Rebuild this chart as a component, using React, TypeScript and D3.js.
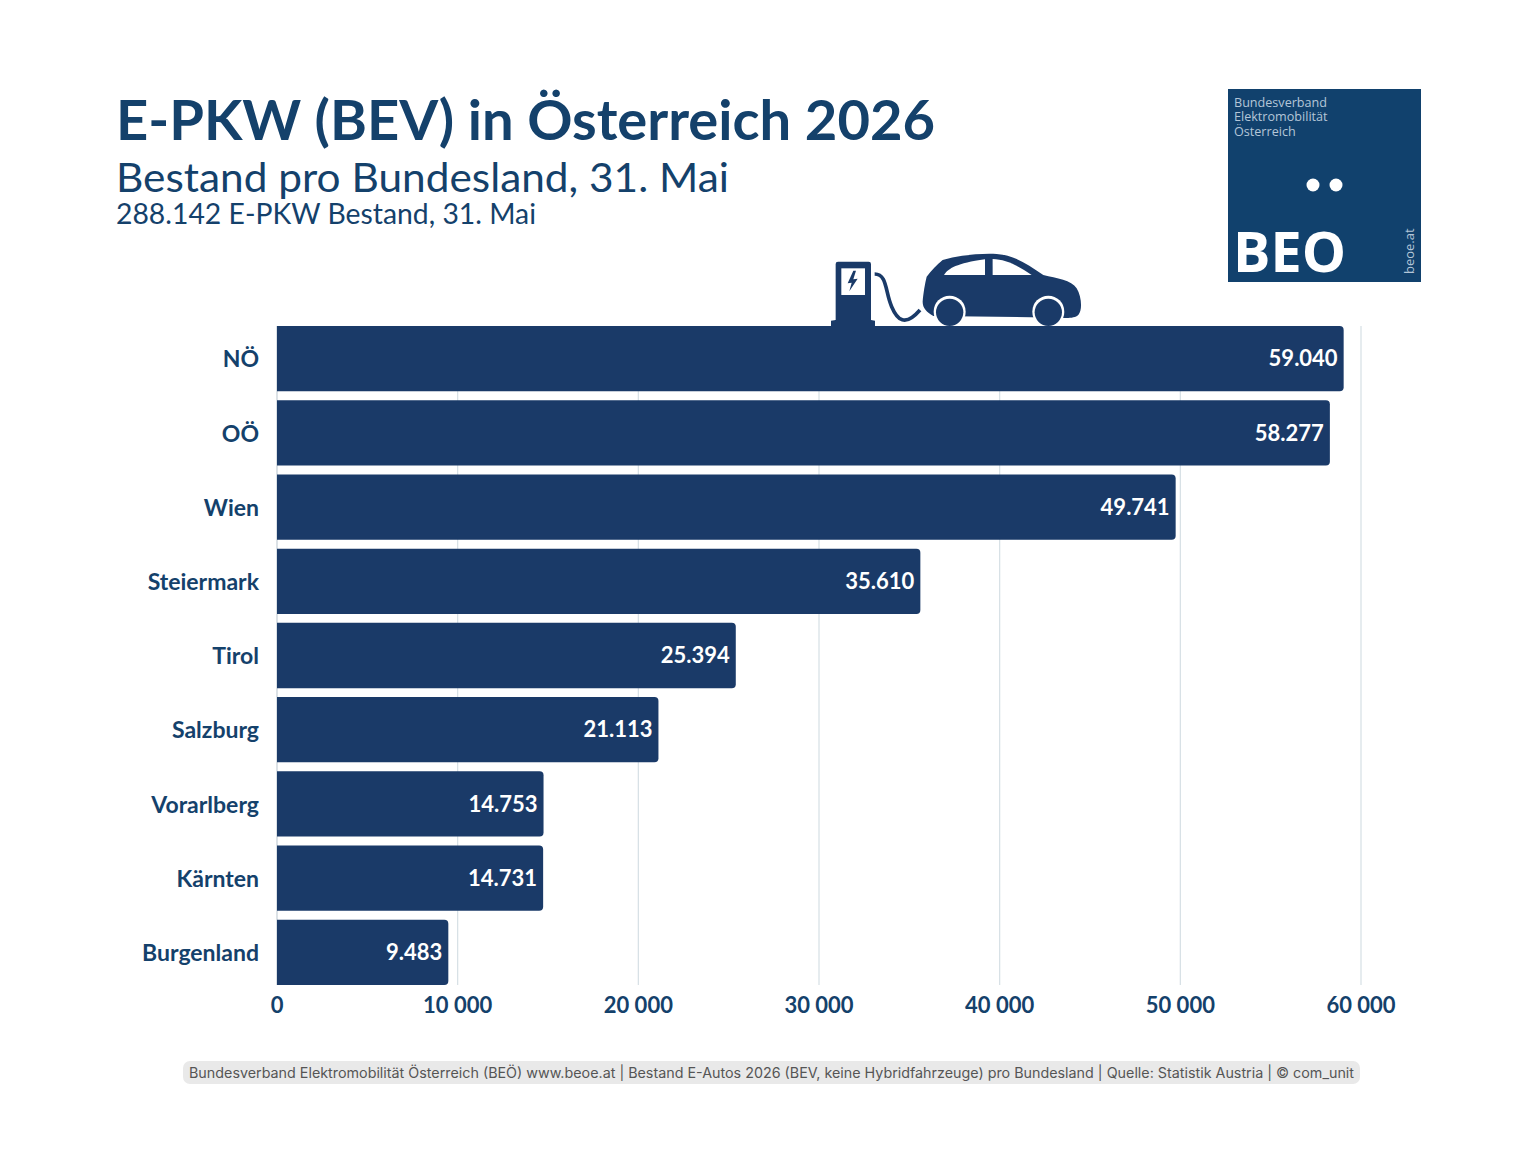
import React, { useEffect, useRef } from 'react';
import * as d3 from 'd3';

const regions = ['NÖ', 'OÖ', 'Wien', 'Steiermark', 'Tirol', 'Salzburg', 'Vorarlberg', 'Kärnten', 'Burgenland'];
const bestand = [59040, 58277, 49741, 35610, 25394, 21113, 14753, 14731, 9483];
const xTicks = [0, 10000, 20000, 30000, 40000, 50000, 60000];

const NAVY = '#14416b';
const BAR = '#1a3a68';
const FONT = 'Lato, "Open Sans", sans-serif';

const width = 1536;
const height = 1152;
const margin = { top: 326, right: 175, bottom: 167, left: 277 };

const formatLabel = (v: number) => d3.format(',')(v).replace(/,/g, '.');
const formatTick = (v: number) => d3.format(',')(v).replace(/,/g, ' ');

const App: React.FC = () => {
  const svgRef = useRef<SVGSVGElement>(null);

  useEffect(() => {
    if (!svgRef.current) return;
    d3.select(svgRef.current).select('.chart').remove();

    const innerWidth = width - margin.left - margin.right;
    const innerHeight = height - margin.top - margin.bottom;

    const g = d3.select(svgRef.current)
      .append('g')
      .attr('class', 'chart')
      .attr('transform', `translate(${margin.left},${margin.top})`);

    const x = d3.scaleLinear().domain([0, 60000]).range([0, innerWidth]);
    const y = d3.scaleBand().domain(regions).range([0, innerHeight]).paddingInner(0.12).paddingOuter(0);

    // vertical grid
    g.selectAll('.grid')
      .data(xTicks)
      .enter()
      .append('line')
      .attr('x1', d => x(d))
      .attr('x2', d => x(d))
      .attr('y1', 0)
      .attr('y2', innerHeight)
      .attr('stroke', d => (d === 0 ? '#c4ced6' : '#d6dfe5'))
      .attr('stroke-width', 1.2);

    // bars, only the right corners are rounded
    const r = 4;
    g.selectAll('.bar')
      .data(bestand)
      .enter()
      .append('path')
      .attr('fill', BAR)
      .attr('d', (d, i) => {
        const top = y(regions[i]) || 0;
        const bottom = top + y.bandwidth();
        const p = d3.path();
        p.moveTo(0, top);
        p.lineTo(x(d) - r, top);
        p.arcTo(x(d), top, x(d), top + r, r);
        p.lineTo(x(d), bottom - r);
        p.arcTo(x(d), bottom, x(d) - r, bottom, r);
        p.lineTo(0, bottom);
        p.closePath();
        return p.toString();
      });

    g.selectAll('.value')
      .data(bestand)
      .enter()
      .append('text')
      .attr('x', d => x(d) - 6)
      .attr('y', (d, i) => (y(regions[i]) || 0) + y.bandwidth() / 2)
      .attr('dy', '0.35em')
      .attr('text-anchor', 'end')
      .attr('fill', '#fff')
      .style('font', `700 22px ${FONT}`)
      .text(d => formatLabel(d));

    const yAxis = g.append('g').call(d3.axisLeft(y).offset(0).tickSize(0).tickPadding(18));
    yAxis.select('.domain').remove();
    yAxis.selectAll('text')
      .attr('fill', NAVY)
      .attr('dy', '0.38em')
      .style('font', `700 23px ${FONT}`);

    const xAxis = g.append('g')
      .attr('transform', `translate(0,${innerHeight})`)
      .call(d3.axisBottom(x).offset(0).tickValues(xTicks).tickSize(0).tickPadding(12).tickFormat(d => formatTick(Number(d))));
    xAxis.select('.domain').remove();
    xAxis.selectAll('text')
      .attr('fill', NAVY)
      .style('font', `700 22px ${FONT}`);
  }, []);

  return (
    <svg
      ref={svgRef}
      width={width}
      height={height}
      viewBox={`0 0 ${width} ${height}`}
      style={{ position: 'absolute', left: 0, top: 0, background: '#fff' }}
    >
      <text x={116} y={140} fill={NAVY} textLength={819} lengthAdjust="spacingAndGlyphs" style={{ font: `700 56px ${FONT}` }}>
        E-PKW (BEV) in Österreich 2026
      </text>
      <text x={116} y={192} fill={NAVY} textLength={613} lengthAdjust="spacingAndGlyphs" style={{ font: `400 41px ${FONT}` }}>
        Bestand pro Bundesland, 31. Mai
      </text>
      <text x={116} y={224} fill={NAVY} textLength={420} lengthAdjust="spacingAndGlyphs" style={{ font: `400 28px ${FONT}` }}>
        288.142 E-PKW Bestand, 31. Mai
      </text>

      {/* logo */}
      <rect x={1228} y={89} width={193} height={193} fill="#11416d" />
      <g fill="#b4c6d8" style={{ font: '400 12.6px "Open Sans", sans-serif' }}>
        <text x={1234} y={107}>Bundesverband</text>
        <text x={1234} y={121}>Elektromobilität</text>
        <text x={1234} y={136}>Österreich</text>
        <text transform="translate(1414,274) rotate(-90)" style={{ font: '400 13px "Open Sans", sans-serif' }}>beoe.at</text>
      </g>
      <circle cx={1313} cy={185} r={6.5} fill="#fff" />
      <circle cx={1336} cy={185} r={6.5} fill="#fff" />
      <text x={1233} y={272} fill="#fff" textLength={113} lengthAdjust="spacingAndGlyphs" style={{ font: '700 56px "Open Sans", sans-serif' }}>
        BEO
      </text>

      {/* charging station and car */}
      <g transform="translate(800,230) scale(0.3333)" fill={BAR}>
        <path d="M107,102 Q107,95 114,95 L206,95 Q213,95 213,102 L213,270 L225,272 L225,290 L93,290 L93,272 L107,270 Z" />
        <rect x={124} y={115} width={71} height={80} fill="#fff" />
        <path d="M160,122 L143,160 L155,158 L148,184 L173,146 L160,148 L168,122 Z" />
        <path d="M224,132 C262,132 255,185 275,230 C292,270 315,292 360,240" fill="none" stroke={BAR} strokeWidth={11} />
        <path d="M428,90 C480,75 540,70 590,72 C640,75 680,100 730,135 C770,145 815,150 830,175 C845,200 848,240 835,255 C825,265 800,265 780,263 L400,258 C380,245 368,235 368,215 C370,190 375,160 380,140 C395,120 410,105 428,90 Z" />
        <path d="M432,135 C445,115 470,100 555,88 L555,135 Z" fill="#fff" />
        <path d="M578,87 C620,88 660,110 695,135 L578,135 Z" fill="#fff" />
        <circle cx={449} cy={245} r={48} fill="#fff" />
        <circle cx={745} cy={245} r={48} fill="#fff" />
        <circle cx={449} cy={247} r={41} />
        <circle cx={745} cy={247} r={41} />
      </g>

      {/* footer */}
      <rect x={183} y={1061} width={1177} height={23} rx={7} fill="#e9e9e9" />
      <text x={189} y={1078} fill="#555" textLength={1165} lengthAdjust="spacingAndGlyphs" style={{ font: '400 14px Inter, sans-serif' }}>
        Bundesverband Elektromobilität Österreich (BEÖ) www.beoe.at | Bestand E-Autos 2026 (BEV, keine Hybridfahrzeuge) pro Bundesland | Quelle: Statistik Austria | © com_unit
      </text>
    </svg>
  );
};

export default App;
